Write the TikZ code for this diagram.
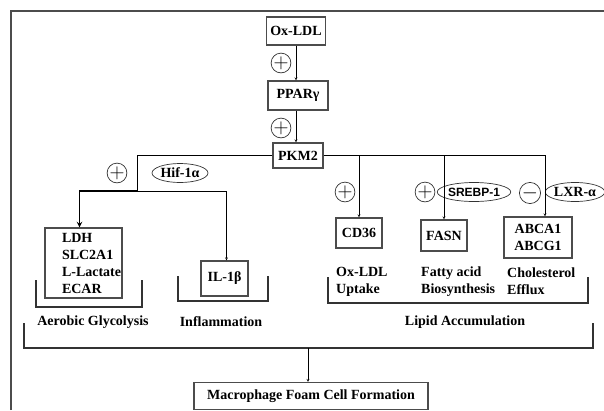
\documentclass[tikz,border=0pt]{standalone}
\usepackage{fontspec}
\setmainfont{Liberation Serif}
\setsansfont{Liberation Sans}
\usetikzlibrary{shapes.geometric}
\tikzset{
  gbox/.style={draw=black!70, line width=1.1pt, inner sep=2pt, align=center},
  sign/.style={circle, draw=black!80, line width=0.7pt, inner sep=0pt, minimum size=19pt, font=\fontsize{20}{20}\selectfont},
  factor/.style={ellipse, draw=black!80, line width=0.7pt, inner sep=0pt, minimum height=19pt},
  bracket/.style={draw=black!80, line width=1.6pt},
}
\begin{document}
\begin{tikzpicture}[x=1pt,y=-1pt,>=stealth,font=\bfseries\fontsize{14}{17}\selectfont]
\useasboundingbox (0,0) rectangle (604,410);
\draw[black!70,line width=2.5pt] (11,410)--(11,11)--(604,11);
% top chain
\node[gbox,minimum width=59pt,minimum height=28pt] (oxldl) at (296,31) {Ox-LDL};
\node[gbox,minimum width=60pt,minimum height=29pt] (ppar) at (298,95.5) {PPARγ};
\node[gbox,minimum width=50pt,minimum height=25pt] (pkm) at (298,155.5) {PKM2};
\node[sign] (s1) at (281,63) {$+$};
\node[sign] (s2) at (281,128) {$+$};
\draw[->] (oxldl.south -| 296,0) -- (ppar.north -| 296,0);
\draw[->] (ppar.south -| 296,0) -- (pkm.north -| 296,0);
% left branch
\node[gbox,minimum width=77pt,minimum height=70pt,text width=43pt,align=left] (ldh) at (83.5,263) {LDH\\SLC2A1\\\mbox{L-Lactate}\\ECAR};
\node[gbox,minimum width=47pt,minimum height=35pt] (il) at (224.5,278.5) {IL-1β};
\node[sign] (s3) at (117,173) {$+$};
\node[factor,minimum width=56pt] (hif) at (180,173) {Hif-1α};
\coordinate (lsplit) at (137,191);
\draw (pkm.west) -| (lsplit);
\draw[->,line width=1.5pt] (lsplit) -| ([xshift=-4pt]ldh.north);
\draw[->] (lsplit) -| ([xshift=2pt]il.north);
% right branch
\node[gbox,minimum width=46pt,minimum height=30pt] (cd36) at (359,233) {CD36};
\node[gbox,minimum width=46pt,minimum height=31pt] (fasn) at (444,235.5) {FASN};
\node[gbox,minimum width=68pt,minimum height=41pt] (abca) at (538,237.5) {ABCA1\\ABCG1};
\node[sign] (s4) at (345,192) {$+$};
\node[sign] (s5) at (425,192) {$+$};
\node[factor,minimum width=55pt,font=\sffamily\bfseries\fontsize{12}{14}\selectfont] (srebp) at (474,192) {SREBP-1};
\node[sign] (s6) at (530,193) {$-$};
\node[factor,minimum width=56pt] (lxr) at (575,192) {LXR-α};
\draw[->] (pkm.east) -| ([xshift=7pt]abca.north);
\draw[->] (pkm.east -| cd36.north) -- (cd36.north);
\draw[->] (pkm.east -| fasn.north) -- (fasn.north);
\node[anchor=west,inner sep=0pt,align=left] (uptake) at (336,282) {Ox-LDL\\Uptake};
\node[anchor=west,inner sep=0pt,align=left] (fatty) at (421,282) {Fatty acid\\Biosynthesis};
\node[anchor=west,inner sep=0pt,align=left] (efflux) at (507,281.5) {Cholesterol\\Efflux};
% group brackets
\draw[bracket] (36,280) |- (142,307) -- (142,280);
\draw[bracket] (178,276) |- (268,301) -- (268,276);
\draw[bracket] (328,277) |- (588,303) -- (588,277);
\node (aero) at (93,322) {Aerobic Glycolysis};
\node (infl) at (221,322) {Inflammation};
\node (lipid) at (465,322) {Lipid Accumulation};
\draw[bracket] (24,323) |- (593,348) -- (593,323);
\coordinate (join) at (308,348);
\node[gbox,minimum width=234pt,minimum height=27pt] (foam) at (311,396) {Macrophage Foam Cell Formation};
\draw[->] (join) -- (join |- foam.north);
\end{tikzpicture}
\end{document}
